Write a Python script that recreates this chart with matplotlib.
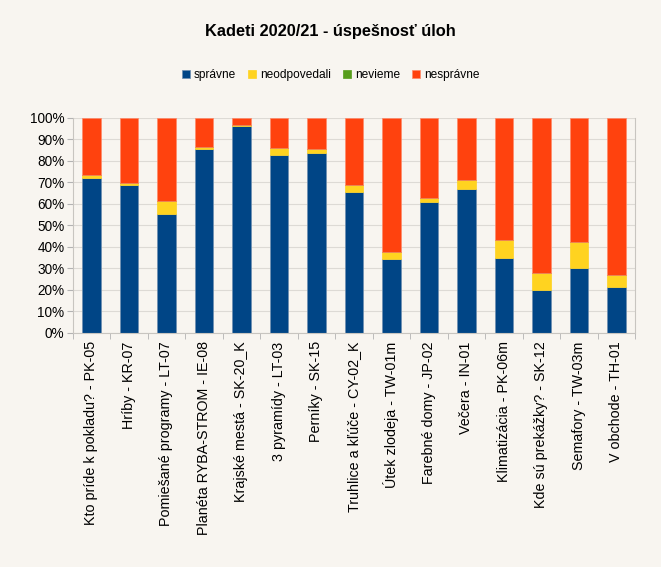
import matplotlib
matplotlib.use('Agg')
import matplotlib.pyplot as plt
import numpy as np

plt.rcParams['font.family'] = ['Liberation Sans', 'DejaVu Sans']

ulohy = ['Kto príde k pokladu? - PK-05', 'Hríby - KR-07', 'Pomiešané programy - LT-07',
         'Planéta RYBA-STROM - IE-08', 'Krajské mestá - SK-20_K', '3 pyramídy - LT-03',
         'Perníky - SK-15', 'Truhlice a kľúče - CY-02_K', 'Útek zlodeja - TW-01m',
         'Farebné domy - JP-02', 'Večera - IN-01', 'Klimatizácia - PK-06m',
         'Kde sú prekážky? - SK-12', 'Semafory - TW-03m', 'V obchode - TH-01']
spravne = [72.2, 68.7, 55.3, 85.4, 96.1, 82.6, 83.9, 65.4, 34.4, 61.1, 66.8, 34.7, 20.0, 30.4, 21.4]
neodpovedali = [1.3, 1.2, 5.9, 1.0, 0.8, 3.3, 1.7, 3.3, 3.4, 1.8, 4.2, 8.6, 8.1, 11.8, 5.7]
nevieme = [0] * 15
nespravne = [100 - a - b - c for a, b, c in zip(spravne, neodpovedali, nevieme)]

bg = '#f8f5f0'
fig = plt.figure(figsize=(6.61, 5.67), dpi=100, facecolor=bg)
ax = fig.add_axes([0.110, 0.4127, 0.851, 0.3793], facecolor=bg)

x = np.arange(len(ulohy))
bottom = np.zeros(len(ulohy))
series = [('správne', spravne, '#004586', '#6f8fb0'), ('neodpovedali', neodpovedali, '#ffd320', '#ffd320'),
          ('nevieme', nevieme, '#579d1c', '#579d1c'), ('nesprávne', nespravne, '#ff420e', '#ff8a6a')]
for name, vals, col, edge in series:
    ax.bar(x, vals, 0.5, bottom=bottom, color=col, label=name,
           edgecolor=edge, linewidth=0.5)
    bottom += np.array(vals)

ax.set_xlim(-0.5, len(ulohy) - 0.5)
ax.set_ylim(0, 100)
ax.set_yticks(range(0, 101, 10))
ax.set_yticklabels([f'{v}%' for v in range(0, 101, 10)], fontsize=9.8)
ax.set_xticks(x)
ax.set_xticklabels(ulohy, rotation=90, fontsize=10.3)
ax.set_xticks(np.arange(-0.5, len(ulohy), 1), minor=True)
ax.tick_params(axis='x', which='major', length=0, pad=6)
ax.tick_params(axis='x', which='minor', length=4, color='#b3b3b3')
ax.tick_params(axis='y', length=4, color='#b3b3b3', pad=2)
ax.yaxis.grid(True, color='#dddad5', linewidth=0.8)
ax.set_axisbelow(True)
for s in ['left', 'bottom', 'right']:
    ax.spines[s].set_color('#c8c5c0')
    ax.spines[s].set_linewidth(0.8)
ax.spines['top'].set_visible(False)

fig.text(0.5, 0.945, 'Kadeti 2020/21 - úspešnosť úloh', ha='center', va='center',
         fontsize=11.8, fontweight='bold')
fig.legend(loc='center', bbox_to_anchor=(0.5, 0.867), ncol=4, frameon=False,
           fontsize=8.6, handlelength=0.7, handleheight=0.7, handletextpad=0.3,
           columnspacing=1.0)

fig.savefig('out.png', dpi=100, facecolor=bg)
